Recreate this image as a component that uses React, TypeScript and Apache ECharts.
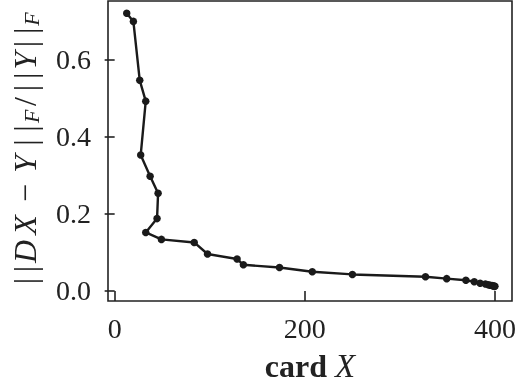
import React, { useEffect, useRef } from "react";
import * as echarts from "echarts";

const cardX = [12.7, 19.7, 26.4, 32.7, 27.4, 37.3, 45.7, 44.6, 32.7, 49.2, 83.7, 97.7, 128.8, 135.4, 173.4, 207.9, 250.1, 327, 349.3, 369.5, 378.3, 384.5, 390, 393, 395, 397, 398.5, 399.5, 400];
const relErr = [0.721, 0.7, 0.547, 0.493, 0.353, 0.298, 0.254, 0.188, 0.152, 0.134, 0.126, 0.096, 0.083, 0.068, 0.061, 0.05, 0.043, 0.037, 0.032, 0.028, 0.024, 0.02, 0.018, 0.016, 0.015, 0.014, 0.013, 0.012, 0.012];
const xTicks = [0, 200, 400];
const yTicks = [0, 0.2, 0.4, 0.6];

const FONT = "Liberation Serif";
const INK = "#222222";

// y-axis label glyphs: text, kind (n = upright, i = italic, s = italic subscript), centre along the label (px)
const yLabelGlyphs: [string, string, number][] = [
  ["|", "n", 1], ["|", "n", 11],
  ["D", "i", 29], ["X", "i", 53.5],
  ["−", "n", 92],
  ["Y", "i", 119],
  ["|", "n", 143], ["|", "n", 153],
  ["F", "s", 164.5],
  ["/", "n", 181],
  ["|", "n", 195], ["|", "n", 204.5],
  ["Y", "i", 220.5],
  ["|", "n", 240], ["|", "n", 251],
  ["F", "s", 263],
];

function buildYLabel() {
  const rich: Record<string, any> = {};
  const parts: string[] = [];
  const n = yLabelGlyphs.length;
  const bounds: number[] = [];
  for (let k = 0; k < n - 1; k++) bounds.push((yLabelGlyphs[k][2] + yLabelGlyphs[k + 1][2]) / 2);
  const start = yLabelGlyphs[0][2] - (bounds[0] - yLabelGlyphs[0][2]);
  const end = yLabelGlyphs[n - 1][2] + (yLabelGlyphs[n - 1][2] - bounds[n - 2]);
  const all = [start, ...bounds, end];
  rich.g0 = { width: 3, align: "center", fontSize: 32, lineHeight: 40 };
  parts.push("{g0| }");
  yLabelGlyphs.forEach(([t, kind, _c], k) => {
    const w = all[k + 1] - all[k];
    const name = "t" + k;
    const base: any = {
      width: w,
      align: "center",
      fontFamily: FONT,
      color: INK,
      lineHeight: 40,
    };
    if (kind === "n") Object.assign(base, { fontSize: 32 });
    if (kind === "i") Object.assign(base, { fontSize: 32, fontStyle: "italic" });
    if (kind === "s") Object.assign(base, { fontSize: 22, fontStyle: "italic", padding: [13, 0, 0, 0] });
    rich[name] = base;
    parts.push("{" + name + "|" + t + "}");
  });
  return { text: parts.join(""), rich };
}

export default function App() {
  const ref = useRef<HTMLDivElement>(null);
  useEffect(() => {
    if (!ref.current) return;
    const chart = echarts.init(ref.current, null, { renderer: "svg" });
    const yl = buildYLabel();
    chart.setOption({
      animation: false,
      grid: {
        left: 108,
        right: 6,
        top: 1,
        bottom: 82,
        containLabel: false,
        outerBoundsMode: "none",
        show: true,
        borderColor: INK,
        borderWidth: 1.6,
        backgroundColor: "transparent",
      },
      xAxis: {
        type: "value",
        min: -7,
        max: 418,
        axisLine: { show: false },
        splitLine: { show: false },
        axisTick: { show: true, length: 10, lineStyle: { color: INK, width: 1.6 }, customValues: xTicks },
        axisLabel: {
          customValues: xTicks,
          fontFamily: FONT,
          fontSize: 28,
          color: INK,
          margin: 13,
          formatter: (v: number) => String(v),
        },
        name: "{b|card} {i|X}",
        nameLocation: "middle",
        nameGap: 48,
        nameTextStyle: {
          color: INK,
          fontFamily: FONT,
          fontSize: 32,
          rich: {
            b: { fontFamily: FONT, fontSize: 32, fontWeight: "bold", color: INK },
            i: { fontFamily: FONT, fontSize: 33, fontStyle: "italic", color: INK },
          },
        },
      },
      yAxis: {
        type: "value",
        min: -0.026,
        max: 0.753,
        axisLine: { show: false },
        splitLine: { show: false },
        axisTick: { show: true, length: 10, lineStyle: { color: INK, width: 1.6 }, customValues: yTicks },
        axisLabel: {
          customValues: yTicks,
          fontFamily: FONT,
          fontSize: 28,
          color: INK,
          margin: 17,
          formatter: (v: number) => v.toFixed(1),
        },
        name: yl.text,
        nameLocation: "middle",
        nameGap: 58,
        nameTextStyle: {
          color: INK,
          fontFamily: FONT,
          fontSize: 32,
          lineHeight: 40,
          rich: yl.rich,
        },
      },
      series: [
        {
          type: "line",
          data: cardX.map((x, i) => [x, relErr[i]]),
          symbol: "circle",
          symbolSize: 7.5,
          showSymbol: true,
          lineStyle: { color: "#1a1a1a", width: 2.4 },
          itemStyle: { color: "#1a1a1a" },
        },
      ],
    });
    return () => chart.dispose();
  }, []);
  return <div ref={ref} style={{ position: "fixed", left: 0, top: 0, width: 518, height: 383 }} />;
}
